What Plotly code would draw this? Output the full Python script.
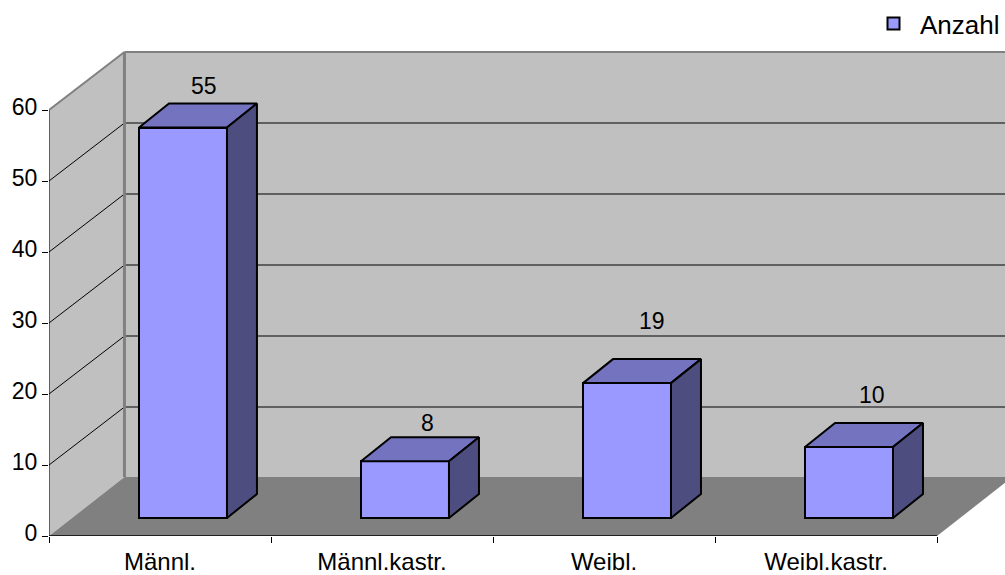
import plotly.graph_objects as go

categories = ["Männl.", "Männl.kastr.", "Weibl.", "Weibl.kastr."]
values = [55, 8, 19, 10]
series_name = "Anzahl"
y_ticks = [0, 10, 20, 30, 40, 50, 60]

W, H = 1005, 575
PX_X0, PX_X4 = 48.5, 937.0
PX_Y0, PX_UNIT = 536.0, 7.1
X_UNIT = (PX_X4 - PX_X0) / 4

def dx(px): return px / X_UNIT
def dy(px): return px / PX_UNIT

DEPTH_X, DEPTH_Y = dx(75.5), dy(59)      # wall depth
BAR_OFF_X, BAR_OFF_Y = dx(23), dy(18)    # bar front plane
BAR_DX, BAR_DY = dx(30), dy(24)          # bar depth
BAR_W = dx(88)
XMAX = (W - PX_X0) / X_UNIT
YMAX = PX_Y0 / PX_UNIT
YTOP = y_ticks[-1]
FONT = "Liberation Sans"
label_lift = [18, 14, 38, 28]   # px above the bar's back top edge
label_shift = [0, 2, 4, 2]


def poly(pts, fill, line=None, width=0, layer="below"):
    path = "M" + " L".join(f"{x},{y}" for x, y in pts) + " Z"
    return dict(type="path", path=path, fillcolor=fill, layer=layer,
                line=dict(color=line or fill, width=width), xref="x", yref="y")


def seg(x0, y0, x1, y1, color="black", width=1):
    return dict(type="line", x0=x0, y0=y0, x1=x1, y1=y1, layer="below",
                line=dict(color=color, width=width), xref="x", yref="y")


shapes = [
    poly([(DEPTH_X, DEPTH_Y), (XMAX + 1, DEPTH_Y), (XMAX + 1, YTOP + DEPTH_Y - dy(1)), (DEPTH_X, YTOP + DEPTH_Y - dy(1))], "#C0C0C0"),
    poly([(0, 0), (DEPTH_X, DEPTH_Y), (DEPTH_X, YTOP + DEPTH_Y - dy(1)), (0, YTOP)], "#C0C0C0"),
    poly([(0, 0), (4, 0), (4 + DEPTH_X, DEPTH_Y), (DEPTH_X, DEPTH_Y)], "#808080"),
]
for t in y_ticks[1:-1]:
    shapes.append(seg(0, t, DEPTH_X, t + DEPTH_Y - dy(1)))
    shapes.append(seg(DEPTH_X, t + DEPTH_Y - dy(1), XMAX + 1, t + DEPTH_Y - dy(1)))
shapes += [
    seg(DEPTH_X, DEPTH_Y, DEPTH_X, YTOP + DEPTH_Y - dy(1), "#808080", 3),
    seg(DEPTH_X, YTOP + DEPTH_Y - dy(1), XMAX + 1, YTOP + DEPTH_Y - dy(1), "#808080", 2),
    seg(0, YTOP, DEPTH_X, YTOP + DEPTH_Y - dy(1), "#808080", 2),
    seg(0, 0, 0, YTOP, "black", 1),
    seg(0, 0, 4, 0, "black", 1.5),
]

fig = go.Figure()
centers = [i + 0.5 + BAR_OFF_X for i in range(len(values))]
fig.add_trace(go.Bar(
    x=centers, y=values, base=BAR_OFF_Y, width=BAR_W, name=series_name,
    marker=dict(color="#9999FF", line=dict(color="black", width=2)),
    showlegend=True, hoverinfo="skip"))

for c, v in zip(centers, values):
    l, r = c - BAR_W / 2, c + BAR_W / 2
    b, t = BAR_OFF_Y, BAR_OFF_Y + v
    fig.add_trace(go.Scatter(
        x=[l, r, r + BAR_DX, l + BAR_DX, l], y=[t, t, t + BAR_DY, t + BAR_DY, t],
        mode="lines", fill="toself", fillcolor="#7373BF",
        line=dict(color="black", width=2), showlegend=False, hoverinfo="skip"))
    fig.add_trace(go.Scatter(
        x=[r, r + BAR_DX, r + BAR_DX, r, r], y=[b, b + BAR_DY, t + BAR_DY, t, b],
        mode="lines", fill="toself", fillcolor="#4D4D80",
        line=dict(color="black", width=2), showlegend=False, hoverinfo="skip"))

annotations = [
    dict(x=c + BAR_DX / 2, y=BAR_OFF_Y + v + BAR_DY, text=str(v), showarrow=False,
         xshift=s + 6, yshift=lift, font=dict(family=FONT, size=23, color="black"),
         xanchor="center", yanchor="middle")
    for c, v, lift, s in zip(centers, values, label_lift, label_shift)
]

fig.update_layout(
    width=W, height=H, autosize=False,
    margin=dict(l=PX_X0, r=0, t=0, b=H - PX_Y0, pad=0),
    paper_bgcolor="white", plot_bgcolor="white",
    font=dict(family=FONT, size=23, color="black"),
    shapes=shapes, annotations=annotations,
    bargap=0,
    showlegend=True,
    legend=dict(x=1.0, xanchor="right", y=1 - 23.5 / PX_Y0, yanchor="middle",
                bgcolor="rgba(0,0,0,0)", borderwidth=0, font=dict(size=26),
                itemwidth=43),
    xaxis=dict(range=[0, XMAX], showgrid=False, zeroline=False, showline=False,
               tickmode="array", tickvals=[i + 0.5 for i in range(len(categories))],
               ticktext=categories, ticks="", ticklen=0, tickfont=dict(size=24),
               ticklabelstandoff=9,
               minor=dict(tickmode="array", tickvals=list(range(len(categories) + 1)),
                          ticks="outside", ticklen=6, tickcolor="black", tickwidth=1,
                          showgrid=False)),
    yaxis=dict(range=[0, YMAX], showgrid=False, zeroline=False, showline=False,
               tickmode="array", tickvals=y_ticks, ticks="outside", ticklen=6,
               tickcolor="black", tickwidth=1, tickfont=dict(size=23),
               ticklabelshift=-3),
)
fig.write_html("out.html", config={"displayModeBar": False},
               post_script="document.body.style.margin='0';document.body.style.overflow='hidden';")
